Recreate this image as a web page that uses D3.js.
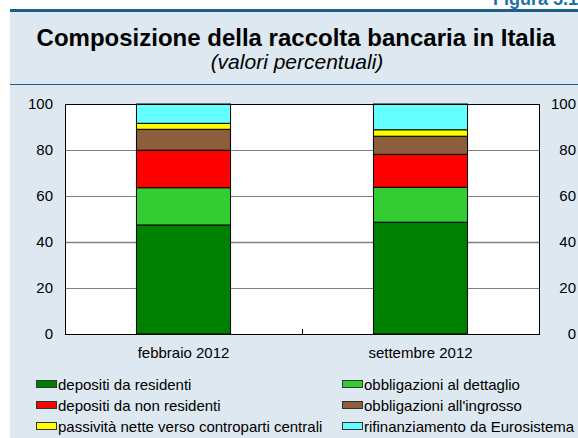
<!DOCTYPE html>
<html>
<head>
<meta charset="utf-8">
<script src="https://cdn.jsdelivr.net/npm/d3@7"></script>
<style>
  body { margin: 0; background: #ffffff; }
  svg { display: block; font-family: "Liberation Sans", Arial, sans-serif; }
</style>
</head>
<body>
<div id="chart"></div>
<script>
"use strict";

// categories and series (percent shares)
const periods = ["febbraio 2012", "settembre 2012"];
const seriesNames = [
  "depositi da residenti",
  "obbligazioni al dettaglio",
  "depositi da non residenti",
  "obbligazioni all'ingrosso",
  "passività nette verso controparti centrali",
  "rifinanziamento da Eurosistema"
];
const depositiResidenti = [47.4, 48.6];
const obbligazioniDettaglio = [16.2, 15.2];
const depositiNonResidenti = [16.3, 14.3];
const obbligazioniIngrosso = [9.1, 7.9];
const passivitaNette = [2.6, 2.8];
const rifinanziamento = [8.4, 11.2];
const yTicks = [0, 20, 40, 60, 80, 100];

const colors = ["#008000", "#33cc33", "#ff0000", "#8c5e3c", "#ffff00", "#66ffff"];

const size = {
  width: 578,
  height: 438,
  left: 65,
  right: 539,
  top: 104,
  bottom: 334
};

const rows = periods.map((p, i) => ({
  period: p,
  s0: depositiResidenti[i],
  s1: obbligazioniDettaglio[i],
  s2: depositiNonResidenti[i],
  s3: obbligazioniIngrosso[i],
  s4: passivitaNette[i],
  s5: rifinanziamento[i]
}));
const keys = ["s0", "s1", "s2", "s3", "s4", "s5"];

const svg = d3.select("#chart").append("svg")
  .attr("width", size.width)
  .attr("height", size.height);

// panel background
svg.append("rect")
  .attr("x", 10).attr("y", 10)
  .attr("width", size.width - 10).attr("height", size.height - 10)
  .attr("fill", "#dde8f1");

svg.append("rect")
  .attr("x", 10).attr("y", 9)
  .attr("width", size.width - 10).attr("height", 3)
  .attr("fill", "#1d5f8c");

svg.append("line")
  .attr("x1", 10).attr("x2", size.width)
  .attr("y1", 84.5).attr("y2", 84.5)
  .attr("stroke", "#1d5f8c").attr("stroke-width", 1);

svg.append("text")
  .attr("x", 578).attr("y", 5)
  .attr("text-anchor", "end")
  .style("font-size", "18px").style("font-weight", "bold")
  .attr("fill", "#1f6fa8")
  .text("Figura 5.1");

svg.append("text")
  .attr("x", 296).attr("y", 46)
  .attr("text-anchor", "middle")
  .style("font-size", "24px").style("font-weight", "bold")
  .text("Composizione della raccolta bancaria in Italia");

svg.append("text")
  .attr("x", 297).attr("y", 69)
  .attr("text-anchor", "middle")
  .style("font-size", "21px").style("font-style", "italic")
  .text("(valori percentuali)");

// scales
const x = d3.scaleBand()
  .domain(periods)
  .range([size.left, size.right])
  .padding(0);

const y = d3.scaleLinear()
  .domain([0, 100])
  .range([size.bottom, size.top]);

const barW = x.bandwidth() * 0.397;

// plot area
svg.append("rect")
  .attr("x", size.left).attr("y", size.top)
  .attr("width", size.right - size.left).attr("height", size.bottom - size.top)
  .attr("fill", "#ffffff");

svg.append("g")
  .selectAll("line")
  .data(yTicks.filter(d => d > 0 && d < 100))
  .enter().append("line")
  .attr("x1", size.left).attr("x2", size.right)
  .attr("y1", d => y(d) + 0.5).attr("y2", d => y(d) + 0.5)
  .attr("stroke", "#808080")
  .attr("stroke-width", d => d == 40 ? 1.5 : 1);

const stack = d3.stack().keys(keys)(rows);

svg.append("g")
  .selectAll("g")
  .data(stack)
  .enter().append("g")
  .attr("fill", (d, i) => colors[i])
  .selectAll("rect")
  .data(d => d)
  .enter().append("rect")
  .attr("x", d => x(d.data.period) + x.bandwidth() / 2 - barW / 2)
  .attr("y", d => y(d[1]))
  .attr("width", barW)
  .attr("height", d => y(d[0]) - y(d[1]))
  .attr("stroke", "#000000")
  .attr("stroke-width", 1);

svg.append("rect")
  .attr("x", size.left + 0.5).attr("y", size.top + 0.5)
  .attr("width", size.right - size.left).attr("height", size.bottom - size.top)
  .attr("fill", "none")
  .attr("stroke", "#000000").attr("stroke-width", 1);

// middle category separator tick
svg.append("line")
  .attr("x1", x(periods[1]) + 0.5).attr("x2", x(periods[1]) + 0.5)
  .attr("y1", size.bottom - 5).attr("y2", size.bottom)
  .attr("stroke", "#000000");

// axes labels
const leftAxis = d3.axisLeft(y).tickValues(yTicks).tickSize(0).tickPadding(12);
svg.append("g")
  .attr("transform", "translate(" + size.left + ",0)")
  .call(leftAxis)
  .call(g => g.select(".domain").remove())
  .selectAll("text")
  .style("font-size", "15px")
  .style("font-family", "Liberation Sans, Arial, sans-serif")
  .attr("fill", "#000000");

const rightAxis = d3.axisRight(y).tickValues(yTicks).tickSize(0).tickPadding(0);
svg.append("g")
  .attr("transform", "translate(576,0)")
  .call(rightAxis)
  .call(g => g.select(".domain").remove())
  .selectAll("text")
  .attr("text-anchor", "end")
  .style("font-size", "15px")
  .style("font-family", "Liberation Sans, Arial, sans-serif")
  .attr("fill", "#000000");

const xAxis = d3.axisBottom(x).tickSize(0).tickPadding(13);
svg.append("g")
  .attr("transform", "translate(0," + size.bottom + ")")
  .call(xAxis)
  .call(g => g.select(".domain").remove())
  .selectAll("text")
  .style("font-size", "15px")
  .style("font-family", "Liberation Sans, Arial, sans-serif")
  .attr("fill", "#000000");

// legend
const legend = svg.append("g");
const items = legend.selectAll("g")
  .data(seriesNames)
  .enter().append("g")
  .attr("transform", (d, i) => "translate(" + (i % 2 == 0 ? 36 : 342) + "," + (380 + Math.floor(i / 2) * 21) + ")");

items.append("rect")
  .attr("x", 0.5).attr("y", 0.5)
  .attr("width", 20).attr("height", 7)
  .attr("fill", (d, i) => colors[i])
  .attr("stroke", "#333333").attr("stroke-width", 1);

items.append("text")
  .attr("x", 22).attr("y", 9.5)
  .style("font-size", "15px")
  .text(d => d);
</script>
</body>
</html>
